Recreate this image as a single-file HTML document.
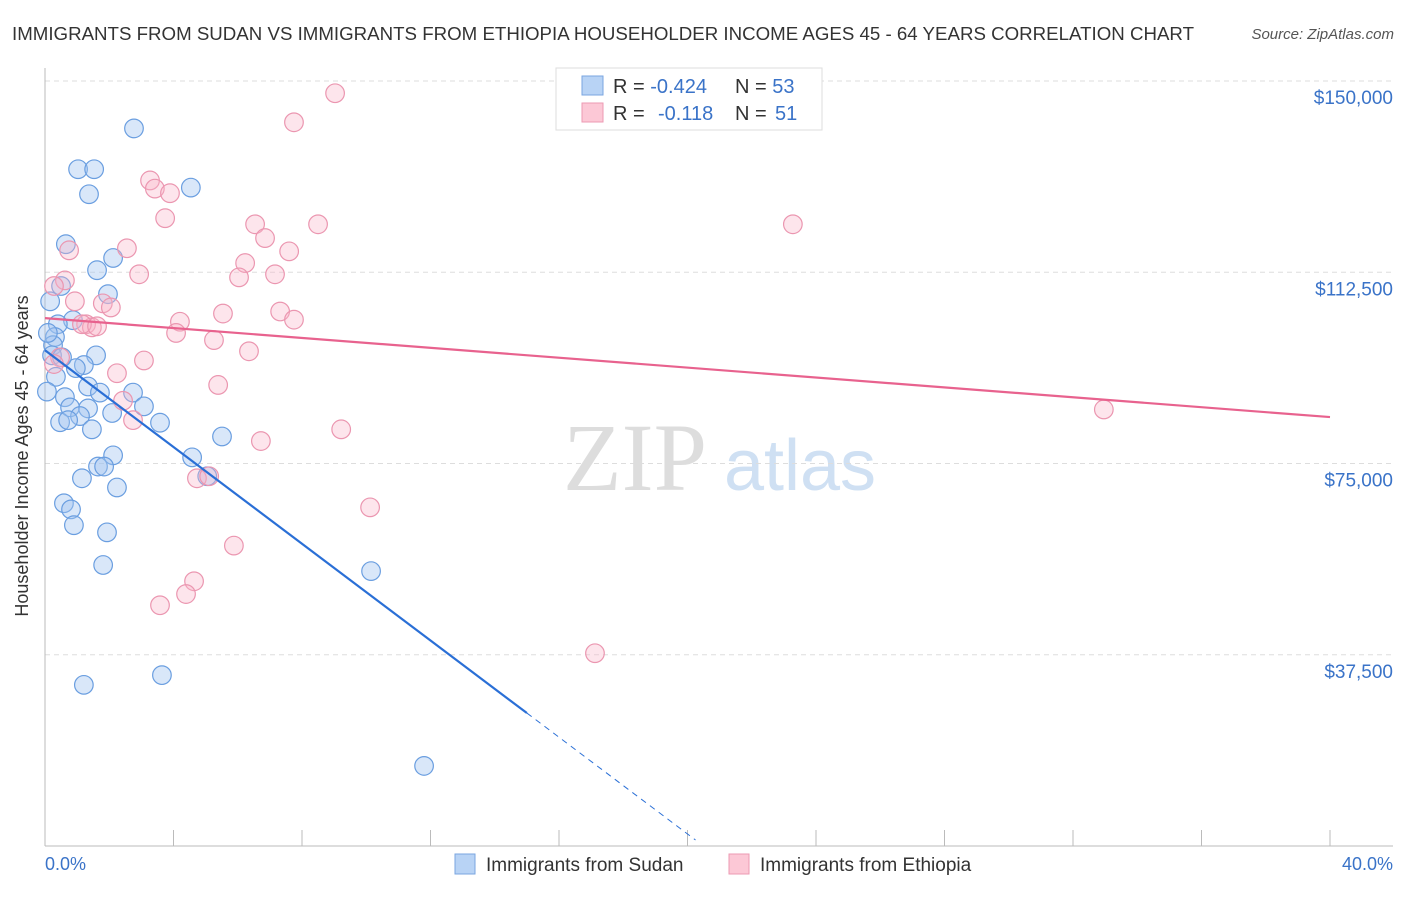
<!DOCTYPE html>
<html><head><meta charset="utf-8"><style>
body{margin:0;background:#fff;font-family:"Liberation Sans",sans-serif}
</style></head><body>
<svg width="1406" height="892" xmlns="http://www.w3.org/2000/svg" font-family="Liberation Sans, sans-serif">
<text x="12" y="40" font-size="18" fill="#333" textLength="1182" lengthAdjust="spacingAndGlyphs">IMMIGRANTS FROM SUDAN VS IMMIGRANTS FROM ETHIOPIA HOUSEHOLDER INCOME AGES 45 - 64 YEARS CORRELATION CHART</text>
<text x="1394" y="39" font-size="15" fill="#555" font-style="italic" text-anchor="end">Source: ZipAtlas.com</text>
<g><text x="635" y="490" font-size="96" fill="#ddd" font-family="Liberation Serif, serif" text-anchor="middle">ZIP</text><text x="800" y="490" font-size="72" fill="#cfe0f3" text-anchor="middle">atlas</text></g>
<g id="grid"></g><g id="axes"></g><g id="marks"></g>
<text x="28" y="456" font-size="18" fill="#333" text-anchor="middle" transform="rotate(-90 28 456)">Householder Income Ages 45 - 64 years</text>
<text x="45" y="870" font-size="18" fill="#3a73c8">0.0%</text>
<text x="1393" y="870" font-size="18" fill="#3a73c8" text-anchor="end">40.0%</text>
<g>
<rect x="556" y="68" width="266" height="62" fill="#fff" stroke="#ddd"/>
<rect x="582" y="76" width="21" height="19" fill="#b8d3f5" stroke="#7aa6e0"/>
<rect x="582" y="103" width="21" height="19" fill="#fcc8d6" stroke="#ec9ab3"/>
<text x="613" y="93" font-size="20" fill="#333">R = <tspan fill="#3a73c8">-0.424</tspan><tspan x="735">N = </tspan><tspan fill="#3a73c8">53</tspan></text>
<text x="613" y="120" font-size="20" fill="#333">R = <tspan x="658" fill="#3a73c8">-0.118</tspan><tspan x="735">N = </tspan><tspan x="775" fill="#3a73c8">51</tspan></text>
</g>
<g>
<rect x="455" y="854" width="20" height="20" fill="#b8d3f5" stroke="#7aa6e0"/>
<text x="486" y="871" font-size="19" fill="#333">Immigrants from Sudan</text>
<rect x="729" y="854" width="20" height="20" fill="#fcc8d6" stroke="#ec9ab3"/>
<text x="760" y="871" font-size="19" fill="#333">Immigrants from Ethiopia</text>
</g>
</svg>
<script>
const yTicks=[37500,75000,112500,150000];
const yTickLabels=["$37,500","$75,000","$112,500","$150,000"];
const sudanX=[2.77,1.03,1.53,1.37,4.54,0.65,2.12,1.62,0.50,0.16,1.96,0.87,0.40,0.31,0.25,1.59,1.21,0.96,0.34,0.06,1.34,1.71,2.74,0.62,0.78,1.34,3.08,2.09,1.09,0.47,0.72,3.58,1.46,5.51,4.58,2.12,1.65,1.84,1.15,5.05,2.24,0.59,0.81,0.90,1.93,1.81,10.15,1.21,3.64,11.80,0.22,0.53,0.09];
const sudanY=[140700,132700,132700,127800,129100,118000,115300,112900,109800,106800,108200,103100,102300,99800,98200,96200,94300,93700,92000,89100,90100,88900,88900,88000,86000,85800,86200,84900,84300,83100,83500,83000,81700,80300,76200,76600,74400,74400,72100,72500,70300,67200,66000,62900,61500,55100,53900,31600,33500,15700,96200,95800,100600];
const ethX=[9.03,7.75,3.27,3.42,3.89,3.74,6.54,8.50,23.28,6.85,2.55,0.75,7.60,6.23,2.93,7.16,6.04,0.62,0.28,0.93,1.80,2.05,5.54,7.32,4.20,7.75,1.28,1.46,1.15,4.08,1.62,5.26,6.35,0.47,3.08,0.28,2.24,5.39,2.43,32.96,2.74,9.22,6.72,4.73,5.11,10.12,5.88,4.64,4.39,3.58,17.12];
const ethY=[147600,141900,130500,128900,128000,123100,121900,121900,121900,119200,117200,116800,116600,114300,112100,112100,111500,110900,109800,106800,106400,105600,104400,104800,102800,103200,102300,101700,102300,100600,101900,99200,97000,95800,95200,94500,92700,90400,87300,85600,83500,81700,79400,72100,72500,66400,58900,51900,49400,47200,37800];
const sudanLine=[[0,97200],[15,26070]], sudanDash=[[15,26070],[20.25,1176]];
const ethLine=[[0,103500],[40,84100]];
const NS="http://www.w3.org/2000/svg";
const X=v=>45+v/40*1285, Y=v=>846-v/150000*765;
function mk(t,a,p){const e=document.createElementNS(NS,t);for(const k in a)e.setAttribute(k,a[k]);document.getElementById(p).appendChild(e);return e;}
yTicks.forEach((t,i)=>{
 const g=mk('line',{x1:45,x2:1393,y1:Y(t),y2:Y(t),stroke:'#ddd','stroke-dasharray':'5,4'},'grid');
 
 
 const l=mk('text',{x:1393,y:Y(t)+23,'font-size':19,fill:'#3a73c8','text-anchor':'end'},'axes');
 l.textContent=yTickLabels[i];
 
 
});
const ax=mk('line',{x1:45,x2:45,y1:68,y2:846,stroke:'#bbb'},'axes');


const bx=mk('line',{x1:45,x2:1393,y1:846,y2:846,stroke:'#bbb'},'axes');


for(let i=0;i<=10;i++){const t=mk('line',{x1:X(i*4),x2:X(i*4),y1:830,y2:846,stroke:'#bbb'},'axes');
 
 }
function pts(xs,ys,fill,stroke,name){xs.forEach((x,i)=>{const c=mk('circle',{cx:X(x),cy:Y(ys[i]),r:9.3,fill:fill,stroke:stroke,'stroke-width':1.2},'marks');
 
 });}
pts(sudanX,sudanY,'rgba(160,196,240,0.4)','#6a9ee0','sudan-point');
pts(ethX,ethY,'rgba(248,180,200,0.35)','#eb96b0','ethiopia-point');
function ln(p,st,dash,name,w){const l=mk('line',{x1:X(p[0][0]),y1:Y(p[0][1]),x2:X(p[1][0]),y2:Y(p[1][1]),stroke:st,'stroke-width':w},'marks');
 if(dash)l.setAttribute('stroke-dasharray',dash);
 
 }
ln(sudanLine,'#2a6fd6',null,'sudan-trend-line',2.2);
ln(sudanDash,'#2a6fd6','6,5','sudan-trend-extension',1);
ln(ethLine,'#e8628e',null,'ethiopia-trend-line',2.2);
</script>
</body></html>
